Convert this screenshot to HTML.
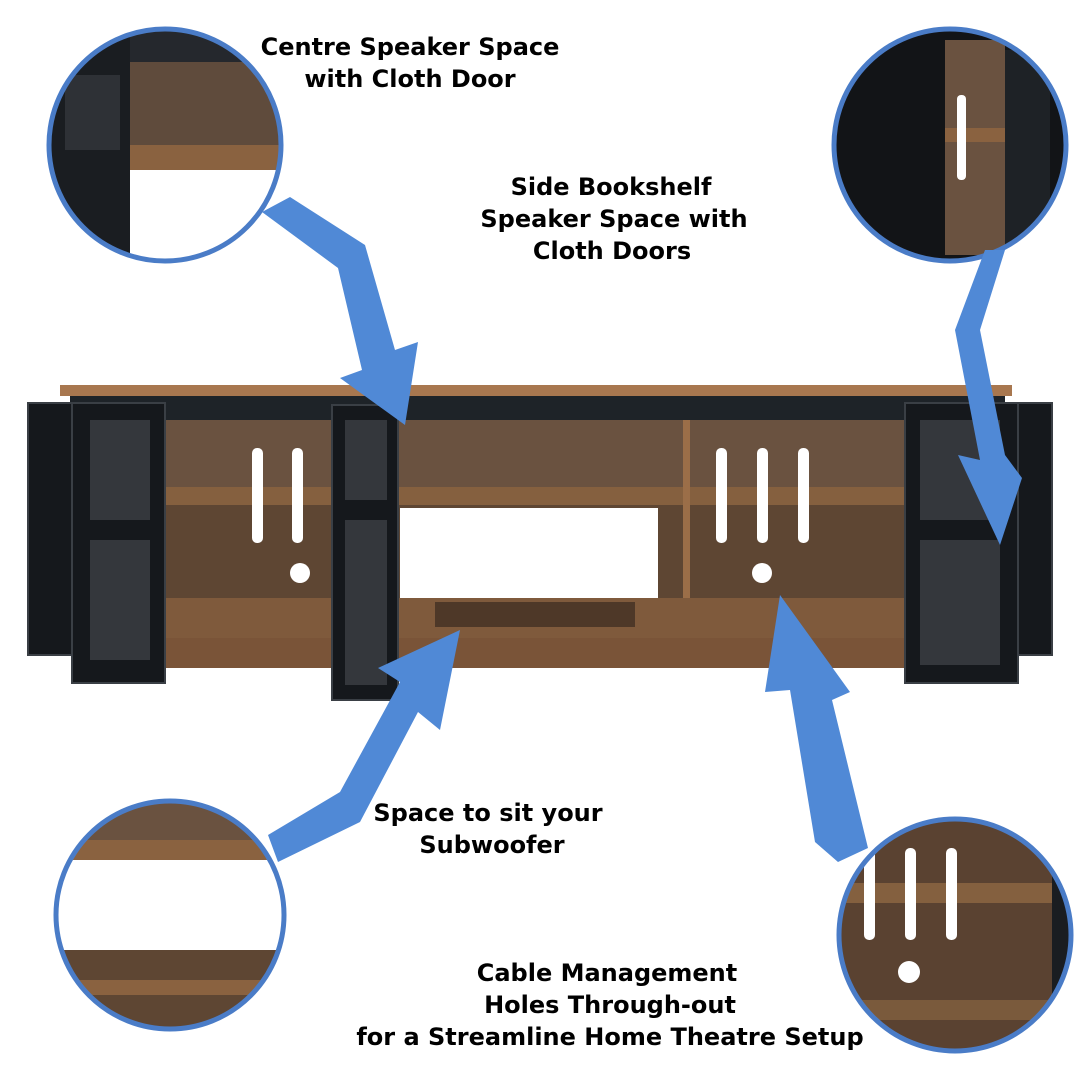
<!DOCTYPE html>
<html><head><meta charset="utf-8"><style>
html,body{margin:0;padding:0;background:#fff;}
svg{display:block}
text{font-family:"DejaVu Sans","Liberation Sans",sans-serif;font-weight:bold;font-size:24px;fill:#000;text-anchor:middle}
</style></head><body>
<svg width="1080" height="1080" viewBox="0 0 1080 1080" xmlns="http://www.w3.org/2000/svg">
<defs>
<clipPath id="c1"><circle cx="165" cy="145" r="114"/></clipPath>
<clipPath id="c2"><circle cx="950" cy="145" r="114"/></clipPath>
<clipPath id="c3"><circle cx="170" cy="915" r="112"/></clipPath>
<clipPath id="c4"><circle cx="955" cy="935" r="114"/></clipPath>
</defs>
<!-- TV stand -->
<rect x="60" y="385" width="952" height="11" fill="#a8774f"/>
<rect x="70" y="396" width="935" height="24" fill="#1e2328"/>
<rect x="120" y="420" width="880" height="248" fill="#5e4633"/>
<rect x="165" y="420" width="170" height="80" fill="#6a5240"/>
<rect x="398" y="420" width="285" height="70" fill="#6a5240"/>
<rect x="690" y="420" width="215" height="80" fill="#6a5240"/>
<rect x="165" y="487" width="740" height="18" fill="#85603f"/>
<rect x="400" y="508" width="258" height="90" fill="#fff"/>
<rect x="683" y="420" width="7" height="210" fill="#9b6e48"/>
<rect x="120" y="598" width="880" height="40" fill="#7f5a3c"/>
<rect x="435" y="602" width="200" height="25" fill="#4e3828"/>
<rect x="120" y="638" width="880" height="30" fill="#7a5438"/>
<g fill="#fff">
<rect x="252" y="448" width="11" height="95" rx="5"/><rect x="292" y="448" width="11" height="95" rx="5"/>
<rect x="716" y="448" width="11" height="95" rx="5"/><rect x="757" y="448" width="11" height="95" rx="5"/><rect x="798" y="448" width="11" height="95" rx="5"/>
<circle cx="300" cy="573" r="10"/><circle cx="762" cy="573" r="10"/>
</g>
<!-- doors -->
<g fill="#15181c" stroke="#3a3f45" stroke-width="2">
<rect x="28" y="403" width="44" height="252"/>
<rect x="72" y="403" width="93" height="280"/>
<rect x="332" y="405" width="66" height="295"/>
<rect x="905" y="403" width="113" height="280"/>
<rect x="1018" y="403" width="34" height="252"/>
</g>
<g fill="#34373c">
<rect x="90" y="420" width="60" height="100"/><rect x="90" y="540" width="60" height="120"/>
<rect x="345" y="420" width="42" height="80"/><rect x="345" y="520" width="42" height="165"/>
<rect x="920" y="420" width="80" height="100"/><rect x="920" y="540" width="80" height="125"/>
</g>
<!-- circles -->
<g clip-path="url(#c1)">
<rect x="40" y="20" width="260" height="260" fill="#fff"/>
<rect x="125" y="20" width="170" height="45" fill="#25282d"/>
<rect x="125" y="62" width="170" height="108" fill="#5f4b3c"/>
<rect x="125" y="145" width="170" height="25" fill="#8a6240"/>
<rect x="40" y="20" width="90" height="260" fill="#1a1d21"/>
<rect x="65" y="75" width="55" height="75" fill="#2e3136"/>
</g>
<circle cx="165" cy="145" r="116" fill="none" stroke="#4a7cc7" stroke-width="5"/>
<g clip-path="url(#c2)">
<rect x="830" y="20" width="250" height="260" fill="#121417"/>
<rect x="945" y="40" width="60" height="215" fill="#6a5240"/>
<rect x="945" y="128" width="60" height="14" fill="#8a6240"/>
<rect x="957" y="95" width="9" height="85" rx="4" fill="#fff"/>
<rect x="1005" y="50" width="45" height="210" fill="#1e2226"/>
</g>
<circle cx="950" cy="145" r="116" fill="none" stroke="#4a7cc7" stroke-width="5"/>
<g clip-path="url(#c3)">
<rect x="50" y="795" width="240" height="245" fill="#fff"/>
<rect x="50" y="795" width="240" height="65" fill="#6a5240"/>
<rect x="50" y="840" width="240" height="20" fill="#8a6240"/>
<rect x="50" y="950" width="240" height="90" fill="#5e4633"/>
<rect x="50" y="980" width="240" height="15" fill="#8a6240"/>
</g>
<circle cx="170" cy="915" r="114" fill="none" stroke="#4a7cc7" stroke-width="5"/>
<g clip-path="url(#c4)">
<rect x="835" y="815" width="245" height="245" fill="#5a4231"/>
<rect x="835" y="883" width="245" height="20" fill="#84603f"/>
<rect x="835" y="1000" width="245" height="20" fill="#7a5a3c"/>
<rect x="864" y="848" width="11" height="92" rx="5" fill="#fff"/>
<rect x="905" y="848" width="11" height="92" rx="5" fill="#fff"/>
<rect x="946" y="848" width="11" height="92" rx="5" fill="#fff"/>
<circle cx="909" cy="972" r="11" fill="#fff"/>
<rect x="1052" y="820" width="30" height="230" fill="#1a1d21"/>
</g>
<circle cx="955" cy="935" r="116" fill="none" stroke="#4a7cc7" stroke-width="5"/>
<!-- arrows -->
<g fill="#5089d6">
<polygon points="262,212 290,197 365,245 395,350 418,342 405,425 340,378 362,370 338,268"/>
<polygon points="985,250 1005,250 980,330 1005,455 1022,478 1000,545 958,455 980,460 955,330"/>
<polygon points="268,835 278,862 360,822 418,712 440,730 460,630 378,668 400,682 340,792"/>
<polygon points="838,862 868,848 832,700 850,692 780,595 765,692 790,690 815,842"/>
</g>
<!-- labels -->
<text x="410" y="55">Centre Speaker Space</text>
<text x="410" y="87">with Cloth Door</text>
<text x="611" y="195">Side Bookshelf</text>
<text x="614" y="227">Speaker Space with</text>
<text x="612" y="259">Cloth Doors</text>
<text x="488" y="821">Space to sit your</text>
<text x="492" y="853">Subwoofer</text>
<text x="607" y="981">Cable Management</text>
<text x="610" y="1013">Holes Through-out</text>
<text x="610" y="1045">for a Streamline Home Theatre Setup</text>
</svg>
</body></html>
